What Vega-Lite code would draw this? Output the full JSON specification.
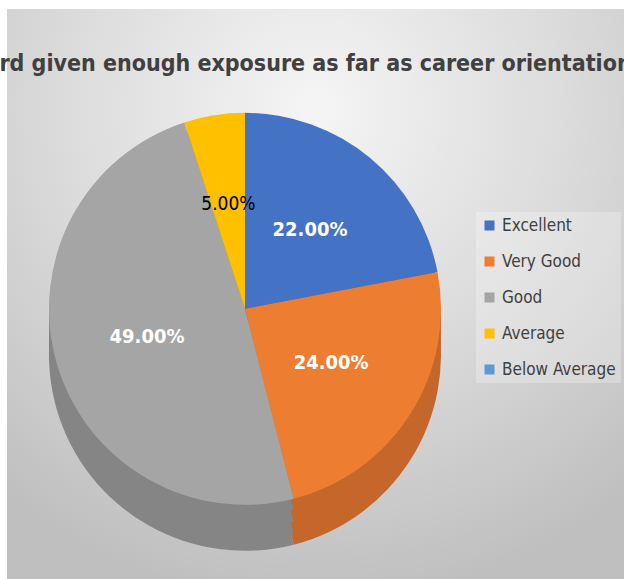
{
  "$schema": "https://vega.github.io/schema/vega-lite/v6.json",
  "width": 617,
  "height": 570,
  "padding": {"left": 7, "top": 9, "right": 0, "bottom": 0},
  "autosize": {"type": "none"},
  "background": "white",
  "config": {
    "view": {"stroke": null},
    "font": "DejaVu Sans Condensed, DejaVu Sans"
  },
  "title": {
    "text": "rd given enough exposure as far as career orientation",
    "font": "DejaVu Sans Condensed, DejaVu Sans",
    "fontWeight": "bold",
    "fontSize": 23,
    "color": "#404040",
    "anchor": "middle",
    "frame": "group",
    "offset": -67
  },
  "data": {
    "values": [
      {"category": "Excellent", "value": 0.22, "rank": 1},
      {"category": "Very Good", "value": 0.24, "rank": 2},
      {"category": "Good", "value": 0.49, "rank": 3},
      {"category": "Average", "value": 0.05, "rank": 4},
      {"category": "Below Average", "value": 0.0, "rank": 5}
    ]
  },
  "encoding": {
    "theta": {"field": "value", "type": "quantitative", "stack": true},
    "order": {"field": "rank", "type": "quantitative"}
  },
  "layer": [
    {
      "data": {"values": [{"bg": 1}]},
      "mark": {
        "type": "rect",
        "fill": {
          "gradient": "radial",
          "x1": 0.5, "y1": 0.2, "r1": 0,
          "x2": 0.5, "y2": 0.2, "r2": 0.8,
          "stops": [
            {"offset": 0, "color": "#f5f5f5"},
            {"offset": 0.5, "color": "#dcdcdc"},
            {"offset": 1, "color": "#bfbfbf"}
          ]
        }
      },
      "encoding": {"theta": null, "order": null}
    },
    {
      "mark": {"type": "arc", "outerRadius": 196, "yOffset": 46, "x": {"expr": "width*0.3857"}, "y": {"expr": "height*0.526"}},
      "encoding": {
        "fill": {
          "condition": [
            {"test": "datum.category == 'Excellent'", "value": "#335a9e"},
            {"test": "datum.category == 'Very Good'", "value": "#c5662b"},
            {"test": "datum.category == 'Average'", "value": "#c49300"},
            {"test": "datum.category == 'Below Average'", "value": "#4a7eb0"}
          ],
          "value": "#858585"
        }
      }
    },
    {
      "mark": {"type": "arc", "outerRadius": 196, "yOffset": 35, "x": {"expr": "width*0.3857"}, "y": {"expr": "height*0.526"}},
      "encoding": {
        "fill": {
          "condition": [
            {"test": "datum.category == 'Excellent'", "value": "#335a9e"},
            {"test": "datum.category == 'Very Good'", "value": "#c5662b"},
            {"test": "datum.category == 'Average'", "value": "#c49300"},
            {"test": "datum.category == 'Below Average'", "value": "#4a7eb0"}
          ],
          "value": "#858585"
        }
      }
    },
    {
      "mark": {"type": "arc", "outerRadius": 196, "yOffset": 23, "x": {"expr": "width*0.3857"}, "y": {"expr": "height*0.526"}},
      "encoding": {
        "fill": {
          "condition": [
            {"test": "datum.category == 'Excellent'", "value": "#335a9e"},
            {"test": "datum.category == 'Very Good'", "value": "#c5662b"},
            {"test": "datum.category == 'Average'", "value": "#c49300"},
            {"test": "datum.category == 'Below Average'", "value": "#4a7eb0"}
          ],
          "value": "#858585"
        }
      }
    },
    {
      "mark": {"type": "arc", "outerRadius": 196, "yOffset": 11, "x": {"expr": "width*0.3857"}, "y": {"expr": "height*0.526"}},
      "encoding": {
        "fill": {
          "condition": [
            {"test": "datum.category == 'Excellent'", "value": "#335a9e"},
            {"test": "datum.category == 'Very Good'", "value": "#c5662b"},
            {"test": "datum.category == 'Average'", "value": "#c49300"},
            {"test": "datum.category == 'Below Average'", "value": "#4a7eb0"}
          ],
          "value": "#858585"
        }
      }
    },
    {
      "mark": {"type": "arc", "outerRadius": 196, "x": {"expr": "width*0.3857"}, "y": {"expr": "height*0.526"}},
      "encoding": {
        "color": {"field": "category", "type": "nominal",
          "scale": {"domain": ["Excellent", "Very Good", "Good", "Average", "Below Average"],
                    "range": ["#4472c4", "#ed7d31", "#a5a5a5", "#ffc000", "#5b9bd5"]},
          "legend": {
            "orient": "none", "legendX": 469, "legendY": 203,
            "title": null,
            "labelFont": "DejaVu Sans Condensed, DejaVu Sans",
            "labelFontSize": 17,
            "labelColor": "#404040",
            "symbolType": "square",
            "symbolSize": 100,
            "symbolStrokeWidth": 0,
            "rowPadding": 18,
            "padding": 5,
            "labelOffset": 4,
            "fillColor": "rgba(255,255,255,0.25)"
          }
        }
      }
    },
    {
      "mark": {"type": "text", "radius": 102, "fontWeight": "bold", "fontSize": 20, "color": "white",
               "font": "DejaVu Sans Condensed, DejaVu Sans",
               "x": {"expr": "width*0.3857"}, "y": {"expr": "height*0.526"}},
      "encoding": {
        "text": {
          "condition": {"test": "datum.category == 'Average' || datum.value == 0", "value": ""},
          "field": "value", "type": "quantitative", "format": ".2%"
        }
      }
    },
    {
      "mark": {"type": "text", "radius": 106, "fontSize": 19, "color": "black",
               "font": "DejaVu Sans Condensed, DejaVu Sans",
               "x": {"expr": "width*0.3857"}, "y": {"expr": "height*0.526"}},
      "encoding": {
        "text": {
          "condition": {"test": "datum.category != 'Average'", "value": ""},
          "field": "value", "type": "quantitative", "format": ".2%"
        }
      }
    }
  ]
}
